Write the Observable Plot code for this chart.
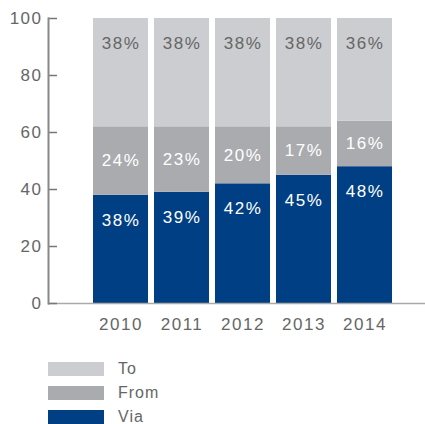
<!DOCTYPE html>
<html>
<head>
<meta charset="utf-8">
<script src="https://cdn.jsdelivr.net/npm/d3@7"></script>
<script src="https://cdn.jsdelivr.net/npm/@observablehq/plot@0.6"></script>
<style>
  body { margin: 0; background: #fff; font-family: "Liberation Sans", Arial, sans-serif; }
  #chart svg { display: block; }
  #legend { margin-top: 17px; margin-left: 48px; }
  .row { display: flex; align-items: center; height: 24px; }
  .sw { width: 56px; height: 14px; margin-right: 14px; }
  .lab { font-size: 16px; line-height: 16px; color: #666; letter-spacing: 1px; }
</style>
</head>
<body>
<div id="chart"></div>
<div id="legend"></div>
<script>
const years = ["2010", "2011", "2012", "2013", "2014"];
const via = [38, 39, 42, 45, 48];
const from = [24, 23, 20, 17, 16];
const to = [38, 38, 38, 38, 36];
const seriesNames = ["Via", "From", "To"];
const colors = ["#003f83", "#aaabae", "#cccdd0"];
const yTicks = [0, 20, 40, 60, 80, 100];

const rows = [];
years.forEach((yr, i) => {
  rows.push({year: yr, series: "Via", value: via[i]});
  rows.push({year: yr, series: "From", value: from[i]});
  rows.push({year: yr, series: "To", value: to[i]});
});

const font = "Liberation Sans, Arial, sans-serif";
const stackOpts = {x: "year", y: "value", z: "series", order: seriesNames};
const lbl = s => d => d.series === s ? d.value + "%" : "";

const plot = Plot.plot({
  width: 425,
  height: 340,
  marginLeft: 48,
  marginRight: 0,
  marginTop: 18,
  marginBottom: 37,
  style: {fontFamily: font, background: "#fff", letterSpacing: "1.5px"},
  x: {domain: years, range: [90, 395], paddingInner: 0.1, paddingOuter: 0.05, axis: null, label: null},
  y: {domain: [0, 100], axis: null, label: null},
  color: {domain: seriesNames, range: colors},
  marks: [
    Plot.barY(rows, Plot.stackY({...stackOpts, fill: "series"})),
    Plot.text(rows, Plot.stackY2({...stackOpts, text: lbl("To"), dy: 25, fill: "#666", fontSize: 17})),
    Plot.text(rows, Plot.stackY({...stackOpts, text: lbl("From"), fill: "#fff", fontSize: 17})),
    Plot.text(rows, Plot.stackY2({...stackOpts, text: lbl("Via"), dy: 25, fill: "#fff", fontSize: 17})),
    Plot.ruleY([0], {stroke: "#aaa", strokeWidth: 1.5}),
    Plot.axisY(yTicks, {tickSize: 0, tickPadding: 6, fill: "#666", fontSize: 17, label: null}),
    Plot.ruleY(yTicks, {insetRight: 368, stroke: "#777", strokeWidth: 1.5}),
    Plot.frame({anchor: "left", stroke: "#888", strokeWidth: 2}),
    Plot.axisX({tickSize: 0, tickPadding: 14, fill: "#666", fontSize: 17, label: null})
  ]
});
document.getElementById("chart").appendChild(plot);

const legend = document.getElementById("legend");
[["To", colors[2]], ["From", colors[1]], ["Via", colors[0]]].forEach(([name, c]) => {
  const r = document.createElement("div");
  r.className = "row";
  r.innerHTML = `<div class="sw" style="background:${c}"></div><span class="lab">${name}</span>`;
  legend.appendChild(r);
});
</script>
</body>
</html>
